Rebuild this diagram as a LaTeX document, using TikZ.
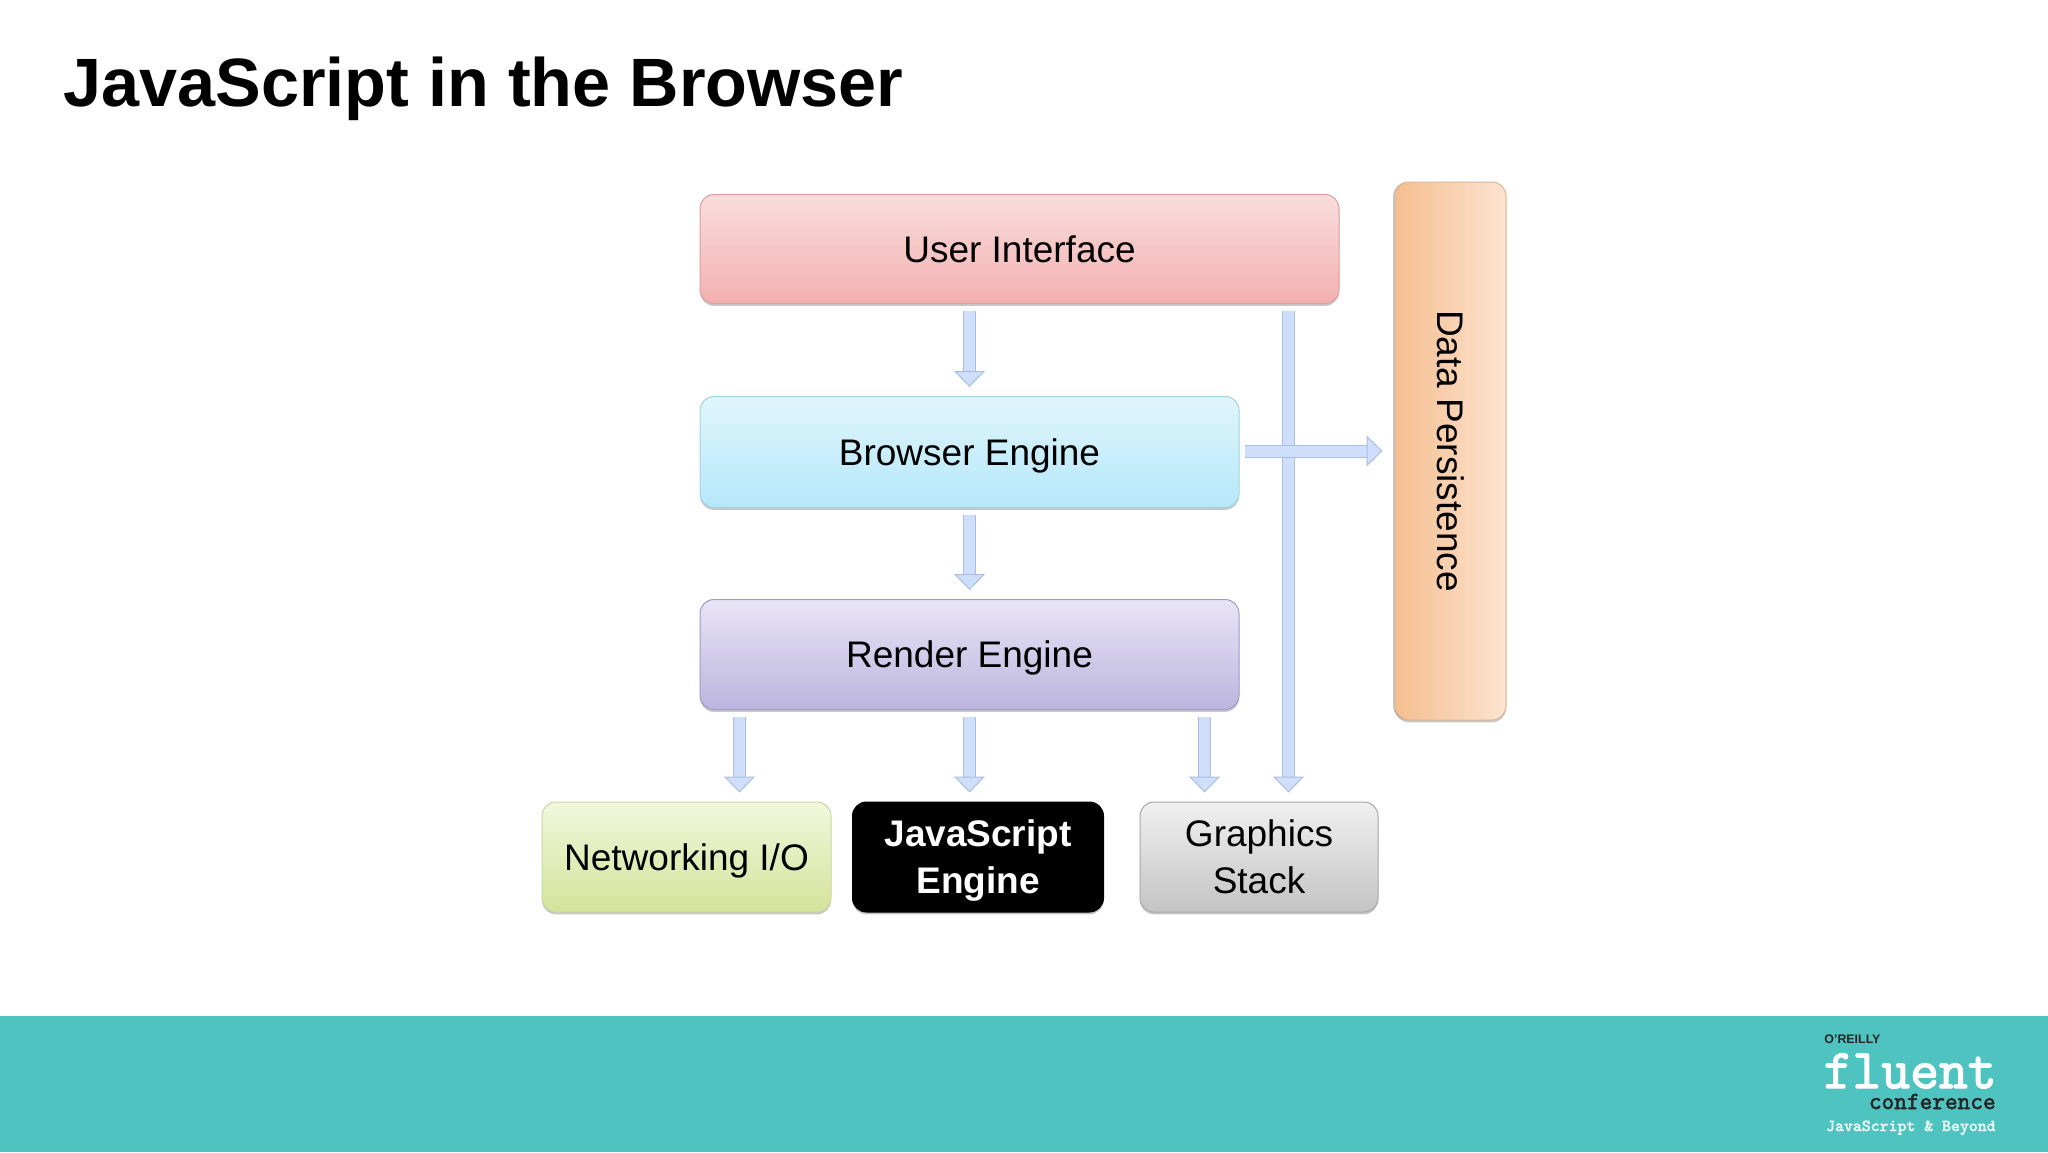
\documentclass[tikz,border=0pt]{standalone}
\usepackage{fontspec}
\setmainfont{Liberation Sans}
\newfontfamily\logofont[FakeBold=2.5]{Latin Modern Mono}
\usetikzlibrary{arrows.meta,shadows}

\definecolor{bandteal}{HTML}{4FC3BF}
\definecolor{flowfill}{HTML}{CFDFFB}
\definecolor{flowedge}{HTML}{A9BEE0}
\definecolor{uitop}{HTML}{F9DDDD}
\definecolor{uibot}{HTML}{F4B0B0}
\definecolor{uiedge}{HTML}{D9A0A0}
\definecolor{betop}{HTML}{E0F5FC}
\definecolor{bebot}{HTML}{B5E8FA}
\definecolor{beedge}{HTML}{A5D2E2}
\definecolor{retop}{HTML}{E8E4F6}
\definecolor{rebot}{HTML}{BCB5DE}
\definecolor{reedge}{HTML}{A09AC6}
\definecolor{iotop}{HTML}{F2F7DC}
\definecolor{iobot}{HTML}{D3E39B}
\definecolor{ioedge}{HTML}{CBD6A6}
\definecolor{gstop}{HTML}{F0F0F0}
\definecolor{gsbot}{HTML}{C4C4C4}
\definecolor{gsedge}{HTML}{A8A8A8}
\definecolor{dpleft}{HTML}{F5BE8F}
\definecolor{dpright}{HTML}{FCE3D1}
\definecolor{dpedge}{HTML}{DDB696}

\tikzset{
  layer/.style={rounded corners=7pt, font=\fontsize{18.5}{23.5}\selectfont, align=center,
    inner sep=0pt, line width=0.5pt, text depth=0pt,
    drop shadow={shadow xshift=0pt, shadow yshift=-1.2pt, opacity=0.22, fill=black}},
  flow/.style={line width=0.5pt, draw=flowedge, double=flowfill, double distance=5.5pt,
    -{Triangle[length=8pt, width=15.5pt, fill=flowfill, color=flowedge, line width=0.5pt]},
    shorten <=3.5pt, shorten >=4.5pt}
}

\begin{document}
\begin{tikzpicture}[x=0.5pt,y=-0.5pt]
      \useasboundingbox (0,0) rectangle (2048,1152);

      % The teal band along the bottom.
      \fill[bandteal] (0,1016) rectangle (2048,1152);

      % The slide title.
      \node[anchor=base west, inner sep=0pt, font=\fontsize{34.2}{40}\selectfont\bfseries]
      (title) at (63,106) {JavaScript in the Browser};

      % The stack of layers.
      \node[layer, minimum width=319.5pt, minimum height=54.5pt,
      draw=uiedge, top color=uitop, bottom color=uibot]
      (ui) at (1019.5,249) {User Interface};

      \node[layer, minimum width=269.5pt, minimum height=55.5pt,
      draw=beedge, top color=betop, bottom color=bebot]
      (browser) at (969.5,452) {Browser Engine};

      \node[layer, minimum width=269.5pt, minimum height=55pt,
      draw=reedge, top color=retop, bottom color=rebot]
      (render) at (969.5,654.5) {Render Engine};

      % The three subsystems under the render engine.
      \node[layer, minimum width=144.5pt, minimum height=55pt,
      draw=ioedge, top color=iotop, bottom color=iobot]
      (network) at (686.5,857) {Networking I/O};

      \node[layer, minimum width=125.5pt, minimum height=55pt,
      draw=black, fill=black, text=white, font=\fontsize{18.5}{23.5}\selectfont\bfseries]
      (jsengine) at (978,857) {JavaScript\\Engine};

      \node[layer, minimum width=119pt, minimum height=55pt,
      draw=gsedge, top color=gstop, bottom color=gsbot]
      (graphics) at (1259,857) {Graphics\\Stack};

      % The data persistence column, turned on its side.
      \node[layer, rotate=-90, minimum width=269pt, minimum height=55.5pt,
      draw=dpedge, left color=dpleft, right color=dpright,
      drop shadow={shadow xshift=-1pt, shadow yshift=0pt, opacity=0.22, fill=black}]
      (data) at (1450.5,451) {Data Persistence};

      % Arrows between the layers.
      \draw[flow] (ui.south -| browser.north) -- (browser.north);
      \draw[flow] (browser.south) -- (render.north);
      \draw[flow] ([xshift=-115pt]render.south) -- ([xshift=-115pt]render.south |- network.north);
      \draw[flow] (render.south) -- (render.south |- jsengine.north);
      \draw[flow] ([xshift=117.5pt]render.south) -- ([xshift=117.5pt]render.south |- graphics.north);

      % The long arrow from the user interface down to the graphics stack.
      \draw[flow] ([xshift=134.5pt]ui.south) -- ([xshift=134.5pt]ui.south |- graphics.north);

      % The arrow across to the data column.
      \draw[flow, shorten <=2.5pt, shorten >=6pt] ([yshift=0.5pt]browser.east) -- ([yshift=0.5pt]browser.east -| data.south);

      % The conference logo.
      \node[anchor=west, inner sep=0pt, font=\fontsize{6.2}{7}\selectfont\bfseries, text=black!85]
      (oreilly) at (1824,1039) {O'REILLY};
      \node[anchor=base east, inner sep=0pt, text depth=0pt, font=\fontsize{28}{30}\logofont, text=white]
      (fluent) at (1997,1088) {fluent};
      \node[anchor=base east, inner sep=0pt, font=\fontsize{12.3}{13}\logofont, text=black!85]
      (conference) at (1996,1109) {conference};
      \node[anchor=base east, inner sep=0pt, font=\fontsize{8.4}{9}\logofont, text=white!85!bandteal]
      (beyond) at (1996,1131) {JavaScript \& Beyond};
\end{tikzpicture}
\end{document}
